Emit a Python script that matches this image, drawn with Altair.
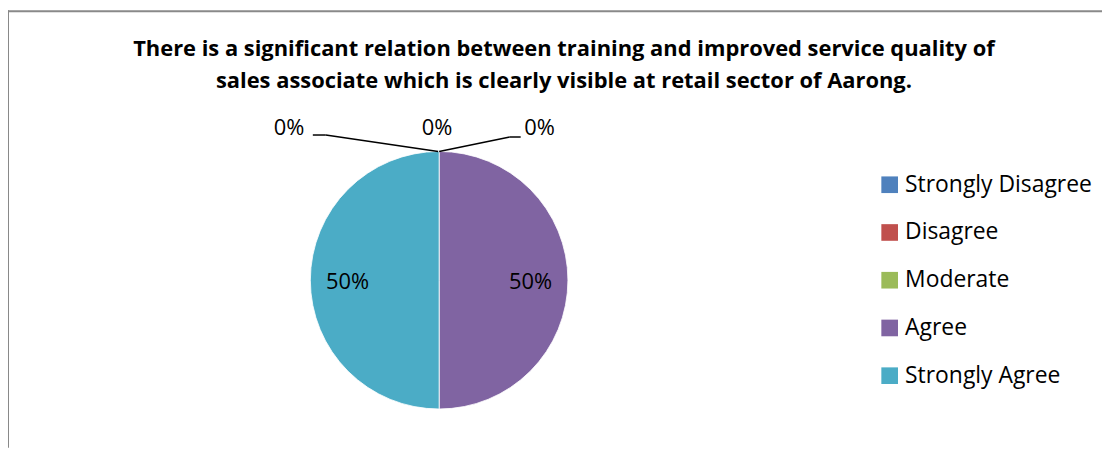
import altair as alt
import pandas as pd

categories = ["Strongly Disagree", "Disagree", "Moderate", "Agree", "Strongly Agree"]
percents = [0, 0, 0, 50, 50]
colors = ["#4F81BD", "#C0504D", "#9BBB59", "#8064A2", "#4BACC6"]
title_lines = [
    "There is a significant relation between training and improved service quality of",
    "sales associate which is clearly visible at retail sector of Aarong.",
]

df = pd.DataFrame({"category": categories, "value": percents, "idx": list(range(len(categories)))})

W, H = 1100, 441
CX, CY, R = 433.5, 272.5, 129.5
FONT = "Open Sans"
FS = 22

base = alt.Chart(df)

color = alt.Color(
    "category:N",
    scale=alt.Scale(domain=categories, range=colors),
    sort=categories,
    legend=alt.Legend(
        title=None, orient="none", legendX=875, legendY=165,
        symbolType="square", symbolSize=280, symbolStrokeWidth=0,
        labelFont=FONT, labelFontSize=23, labelColor="black", labelLimit=400,
        rowPadding=24, labelOffset=4, padding=0,
    ),
)

theta = alt.Theta("value:Q", stack=True)
order = alt.Order("idx:Q")

pie = base.mark_arc(outerRadius=R, stroke="white", strokeWidth=0.8).encode(
    theta=theta, order=order, color=color, x=alt.value(CX), y=alt.value(CY)
)

big_labels = base.transform_filter("datum.value > 0").transform_calculate(
    label="datum.value + '%'"
).mark_text(radius=92, font=FONT, fontSize=FS, color="black", dy=2).encode(
    theta=theta, order=order, text="label:N", x=alt.value(CX), y=alt.value(CY)
)

# nudges for the zero-slice labels (Excel best-fit placement)
zero_dx = {"Strongly Disagree": -151, "Disagree": -2, "Moderate": 101}
zero_layers = []
for cat, dx in zero_dx.items():
    zero_layers.append(
        base.transform_filter(alt.datum.category == cat).transform_calculate(
            label="datum.value + '%'"
        ).mark_text(radius=153, dx=dx, font=FONT, fontSize=FS, color="black").encode(
            theta=theta, order=order, text="label:N", x=alt.value(CX), y=alt.value(CY)
        )
    )

one = alt.Chart(pd.DataFrame({"k": [0]}))
top_y = CY - R
leaders = [
    (CX - 127, 126.5, CX - 114, 126.5),
    (CX - 114, 126.5, CX - 1, top_y),
    (CX, top_y, CX + 71, 128.5),
    (CX + 71, 128.5, CX + 82, 128.5),
]
leader_layers = [
    one.mark_rule(color="black", strokeWidth=1.5).encode(
        x=alt.value(a), y=alt.value(b), x2=alt.value(c), y2=alt.value(d)
    )
    for a, b, c, d in leaders
]

title_layers = [
    one.mark_text(font=FONT, fontSize=22, fontWeight="bold", color="black", baseline="alphabetic").encode(
        x=alt.value(559), y=alt.value(yy), text=alt.value(t)
    )
    for t, yy in zip(title_lines, [47, 79])
]

border = [
    one.mark_rule(color="#898989", strokeWidth=2).encode(
        x=alt.value(0), x2=alt.value(W), y=alt.value(2), y2=alt.value(2)
    ),
    one.mark_rule(color="#898989", strokeWidth=2).encode(
        x=alt.value(0), x2=alt.value(0), y=alt.value(1), y2=alt.value(H)
    ),
]

chart = alt.layer(
    pie, big_labels, *zero_layers, *leader_layers, *title_layers, *border
).properties(
    width=W, height=H, padding=0, autosize=alt.AutoSizeParams(type="none"),
    background="white",
).configure_view(stroke=None)

chart.save("out.html", embed_options={"renderer": "svg", "actions": False})
